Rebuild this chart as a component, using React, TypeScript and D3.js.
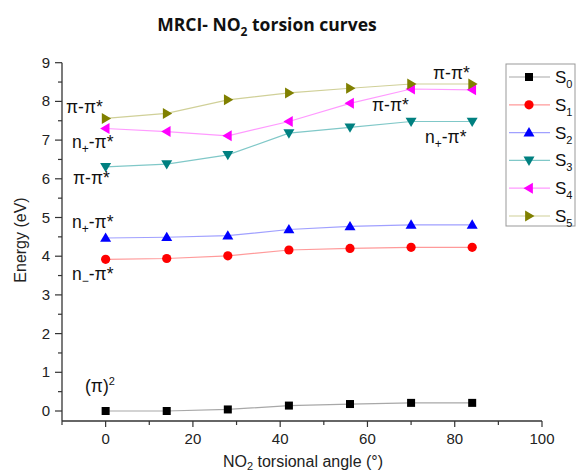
import React from "react";
import * as d3 from "d3";

const angles = [0, 14, 28, 42, 56, 70, 84];
const s0 = [0.0, 0.0, 0.04, 0.14, 0.18, 0.21, 0.21];
const s1 = [3.92, 3.94, 4.01, 4.16, 4.2, 4.23, 4.23];
const s2 = [4.47, 4.49, 4.53, 4.69, 4.77, 4.81, 4.81];
const s3 = [6.31, 6.38, 6.62, 7.18, 7.33, 7.48, 7.48];
const s4 = [7.3, 7.22, 7.11, 7.48, 7.95, 8.32, 8.3];
const s5 = [7.56, 7.69, 8.04, 8.22, 8.34, 8.45, 8.45];
const xTicks = [0, 20, 40, 60, 80, 100];
const yTicks = [0, 1, 2, 3, 4, 5, 6, 7, 8, 9];

const seriesNames = ["0", "1", "2", "3", "4", "5"];
const seriesValues = [s0, s1, s2, s3, s4, s5];
const markerColors = ["#000000", "#ff0000", "#0000ff", "#008080", "#ff00ff", "#808000"];
const lineColors = ["#a8a8a8", "#ff9a9a", "#a0a0ff", "#80c8c8", "#ff9aff", "#d0d098"];
const shapes = ["square", "circle", "up", "down", "left", "right"];

function Marker({ shape, x, y, color }: { shape: string; x: number; y: number; color: string }) {
  const s = 5.5;
  if (shape === "square") return <rect x={x - 4} y={y - 4} width={8} height={8} fill={color} />;
  if (shape === "circle") return <circle cx={x} cy={y} r={4.6} fill={color} />;
  let pts: number[][] = [];
  if (shape === "up") pts = [[x, y - s], [x - s, y + s * 0.7], [x + s, y + s * 0.7]];
  if (shape === "down") pts = [[x, y + s], [x - s, y - s * 0.7], [x + s, y - s * 0.7]];
  if (shape === "left") pts = [[x - s, y], [x + s * 0.7, y - s], [x + s * 0.7, y + s]];
  if (shape === "right") pts = [[x + s, y], [x - s * 0.7, y - s], [x - s * 0.7, y + s]];
  return <polygon points={pts.map((p) => p.join(",")).join(" ")} fill={color} />;
}

export default function App() {
  const W = 578, H = 475;
  const x = d3.scaleLinear().domain([-10, 100]).range([62, 542]);
  const y = d3.scaleLinear().domain([0, 9]).range([411, 62.7]);
  const y0 = 421;
  const line = d3.line<number>().x((_, i) => x(angles[i])).y((d) => y(d));
  const xMinor = d3.range(-10, 101, 10);
  const yMinor = d3.range(0, 9.01, 0.5);
  const font = "Liberation Sans, Arial, sans-serif";
  const ann = { fontFamily: font, fontSize: 17.5, fill: "#111" } as const;

  return (
    <div style={{ position: "absolute", left: 0, top: 0 }}>
      <svg width={W} height={H} style={{ display: "block", background: "#fff" }}>
        <text x={267} y={31} textAnchor="middle" fontFamily="Open Sans, sans-serif" fontWeight="bold" fontSize={17.5} fill="#111">
          MRCI- NO<tspan fontSize={12} dy={5}>2</tspan><tspan dy={-5}> torsion curves</tspan>
        </text>

        {/* axes */}
        <line x1={62} x2={62} y1={y(9)} y2={y0} stroke="#333" strokeWidth={1.3} />
        <line x1={62} x2={542} y1={y0} y2={y0} stroke="#333" strokeWidth={1.3} />
        {yMinor.map((v) => (
          <line key={"ym" + v} x1={62} x2={Number.isInteger(v) ? 55 : 58} y1={y(v)} y2={y(v)} stroke="#333" strokeWidth={1.2} />
        ))}
        {xMinor.map((v) => (
          <line key={"xm" + v} x1={x(v)} x2={x(v)} y1={y0} y2={v % 20 === 0 ? y0 + 6 : y0 + 4} stroke="#333" strokeWidth={1.2} />
        ))}
        {yTicks.map((v) => (
          <text key={"yt" + v} x={50} y={y(v) + 5} textAnchor="end" fontFamily={font} fontSize={15} fill="#222">{v}</text>
        ))}
        {xTicks.map((v) => (
          <text key={"xt" + v} x={x(v)} y={444} textAnchor="middle" fontFamily={font} fontSize={15} fill="#222">{v}</text>
        ))}
        <text transform="translate(26,240) rotate(-90)" textAnchor="middle" fontFamily={font} fontSize={16} fill="#222">Energy (eV)</text>
        <text x={303} y={467} textAnchor="middle" fontFamily={font} fontSize={16} fill="#222">
          NO<tspan fontSize={11} dy={3}>2</tspan><tspan dy={-3}> torsional angle (°)</tspan>
        </text>

        {/* series */}
        {seriesValues.map((vals, si) => (
          <g key={"s" + si}>
            <path d={line(vals) || ""} fill="none" stroke={lineColors[si]} strokeWidth={1.2} />
            {vals.map((v, i) => (
              <Marker key={i} shape={shapes[si]} x={x(angles[i])} y={y(v)} color={markerColors[si]} />
            ))}
          </g>
        ))}

        {/* annotations */}
        <text x={66} y={113} {...ann}>π-π*</text>
        <text x={72} y={148} {...ann}>n<tspan fontSize={12} dy={5}>+</tspan><tspan dy={-5}>-π*</tspan></text>
        <text x={73} y={184} {...ann}>π-π*</text>
        <text x={72} y={228} {...ann}>n<tspan fontSize={12} dy={5}>+</tspan><tspan dy={-5}>-π*</tspan></text>
        <text x={72} y={280} {...ann}>n<tspan fontSize={12} dy={5}>−</tspan><tspan dy={-5}>-π*</tspan></text>
        <text x={85} y={392} {...ann}>(π)<tspan fontSize={11} dy={-7}>2</tspan></text>
        <text x={433} y={79} {...ann}>π-π*</text>
        <text x={372} y={111} {...ann}>π-π*</text>
        <text x={425} y={143} {...ann}>n<tspan fontSize={12} dy={5}>+</tspan><tspan dy={-5}>-π*</tspan></text>

        {/* legend */}
        <rect x={506} y={64} width={69} height={162} fill="#fff" stroke="#999" strokeWidth={1} />
        {seriesNames.map((n, i) => {
          const ly = 77 + i * 27.8;
          return (
            <g key={"l" + i}>
              <line x1={509} x2={550} y1={ly} y2={ly} stroke={lineColors[i]} strokeWidth={1.2} />
              <Marker shape={shapes[i]} x={529} y={ly} color={markerColors[i]} />
              <text x={555} y={ly + 6} fontFamily={font} fontSize={17} fill="#111">
                S<tspan fontSize={11} dy={5}>{n}</tspan>
              </text>
            </g>
          );
        })}
      </svg>
    </div>
  );
}
